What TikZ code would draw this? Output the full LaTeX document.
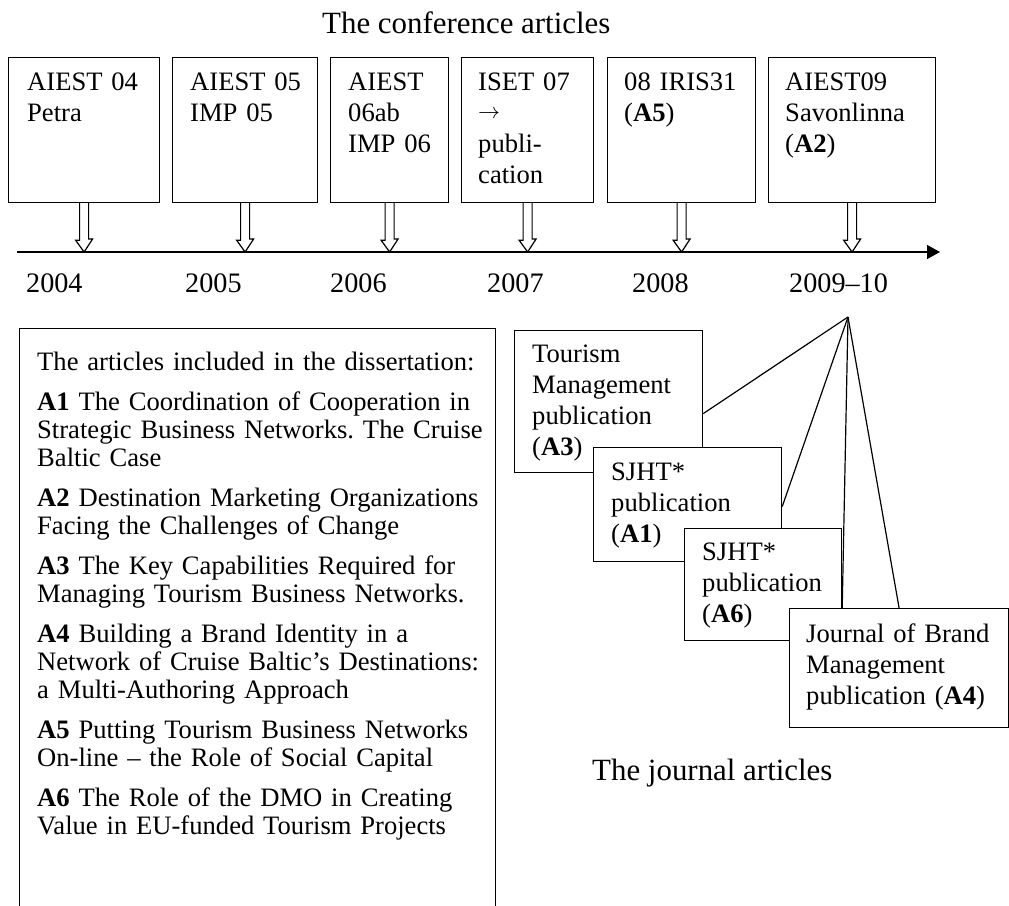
\documentclass[tikz,border=0pt]{standalone}
\usepackage{fontspec}
\usepackage{graphicx}
\setmainfont{Liberation Serif}
\usetikzlibrary{arrows.meta,calc}
\begin{document}
\frenchspacing
\begin{tikzpicture}[x=1pt,y=-1pt,
  lw/.style={line width=1.2pt},
  boxshape/.style={draw,lw,fill=white,rectangle,inner sep=0pt,anchor=north west},
  boxtext/.style={anchor=base west,inner sep=0pt,align=left,text width=#1,
     font=\fontsize{26.6}{31}\selectfont},
  boxtext/.default=200pt,
  listtext/.style={anchor=base west,inner sep=0pt,align=left,text width=460pt,
     font=\fontsize{26.6}{28}\selectfont},
  yeartext/.style={anchor=base west,inner sep=0pt,font=\fontsize{28.2}{32}\selectfont},
  titletext/.style={anchor=base west,inner sep=0pt,font=\fontsize{30.9}{36}\selectfont},
  hollow/.style={draw,lw,fill=white,line join=miter},
  fan/.style={lw}
]
\useasboundingbox (0,0) rectangle (1009,905);
\clip (0,0) rectangle (1009,905);

% title
\node[titletext] (title) at (322,33) {The conference articles};

% conference boxes
\node[boxshape,minimum width=151pt,minimum height=145pt] (c1) at (8,57) {};
\node[boxshape,minimum width=145pt,minimum height=145pt] (c2) at (172,57) {};
\node[boxshape,minimum width=118pt,minimum height=145pt] (c3) at (330,57) {};
\node[boxshape,minimum width=132pt,minimum height=145pt] (c4) at (461,57) {};
\node[boxshape,minimum width=148pt,minimum height=145pt] (c5) at (607,57) {};
\node[boxshape,minimum width=167pt,minimum height=145pt] (c6) at (768,57) {};

\node[boxtext] (t1) at (27,90) {AIEST 04\\Petra};
\node[boxtext] (t2) at (190,90) {AIEST 05\\IMP 05};
\node[boxtext] (t3) at (348,90) {AIEST\\06ab\\IMP 06};
\node[boxtext] (t4) at (478,90) {ISET 07\\\raisebox{2.5pt}{\resizebox{22pt}{!}{$\rightarrow$}}\\publi-\\cation};
\node[boxtext] (t5) at (624,90) {08 IRIS31\\(\textbf{A5})};
\node[boxtext] (t6) at (785,90) {AIEST09\\Savonlinna\\(\textbf{A2})};

% time axis
\coordinate (axs) at (17,252);
\coordinate (axe) at (940,252);
\draw[lw,-{Triangle[length=13pt,width=14pt]}] (axs) -- (axe);

% hollow arrows from boxes to axis
\foreach \b in {c1,c2,c3,c4,c5,c6}{
  \draw[hollow] ([xshift=-4.5pt]\b.south) -- ++(0,37) -- ++(-4,0)
     -- ($(\b.south |- axs)$) -- ++(8.5,-13) -- ++(-4,0) -- ([xshift=4.5pt]\b.south);
}

% years
\node[yeartext] (y1) at (26,292) {2004};
\node[yeartext] (y2) at (185,292) {2005};
\node[yeartext] (y3) at (330,292) {2006};
\node[yeartext] (y4) at (487,292) {2007};
\node[yeartext] (y5) at (632,292) {2008};
\node[yeartext] (y6) at (789,292) {2009–10};

% list box
\node[boxshape,minimum width=476pt,minimum height=600pt] (list) at (19,328) {};
\node[listtext] (listtxt) at (37,370) {The articles included in the dissertation:\\[12pt]
\textbf{A1} The Coordination of Cooperation in\\Strategic Business Networks. The Cruise\\Baltic Case\\[12pt]
\textbf{A2} Destination Marketing Organizations\\Facing the Challenges of Change\\[12pt]
\textbf{A3} The Key Capabilities Required for\\Managing Tourism Business Networks.\\[12pt]
\textbf{A4} Building a Brand Identity in a\\Network of Cruise Baltic’s Destinations:\\a Multi-Authoring Approach\\[12pt]
\textbf{A5} Putting Tourism Business Networks\\On-line – the Role of Social Capital\\[12pt]
\textbf{A6} The Role of the DMO in Creating\\Value in EU-funded Tourism Projects};

% journal boxes
\node[boxshape,minimum width=188pt,minimum height=142pt] (j3) at (514,330) {};
\node[boxtext] (jt3) at (532,362) {Tourism\\Management\\publication\\(\textbf{A3})};
\node[boxshape,minimum width=188pt,minimum height=114pt] (j1) at (593,447) {};
\node[boxtext] (jt1) at (611,480) {SJHT*\\publication\\(\textbf{A1})};
\node[boxshape,minimum width=157pt,minimum height=112pt] (j6) at (684,528) {};
\node[boxtext] (jt6) at (702,560) {SJHT*\\publication\\(\textbf{A6})};
\node[boxshape,minimum width=219pt,minimum height=119pt] (j4) at (789,608) {};
\node[boxtext=220pt] (jt4) at (806,642) {Journal of Brand\\Management\\publication (\textbf{A4})};

% fan lines
\coordinate (apex) at (848,317);
\draw[fan] (apex) -- ([yshift=-12pt]j3.east);
\draw[fan] (apex) -- ([yshift=-2pt]j1.east);
\draw[fan] (apex) -- (j6.east |- j4.north);
\draw[fan] (apex) -- (j4.north);

\node[titletext] (jlabel) at (592,780) {The journal articles};
\end{tikzpicture}
\end{document}
